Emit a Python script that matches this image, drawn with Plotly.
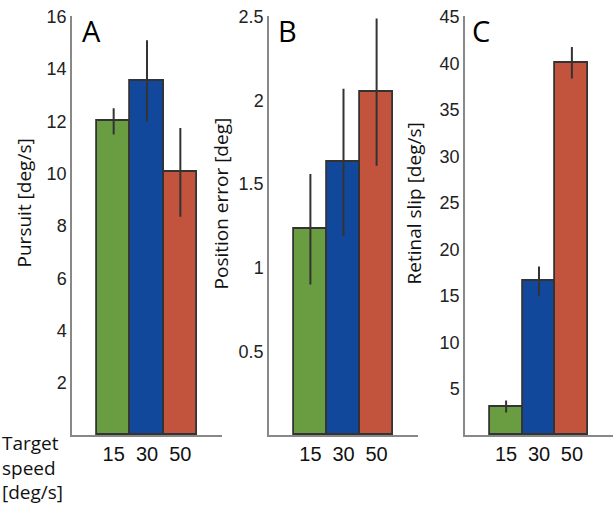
import plotly.graph_objects as go

speeds = ["15", "30", "50"]
colors = ["#6a9c42", "#12489c", "#c2533c"]

pursuit = [12.0, 13.55, 10.05]
pursuit_err = [0.5, 1.55, 1.7]

pos_error = [1.23, 1.63, 2.05]
pos_error_err = [0.33, 0.44, 0.44]

retinal_slip = [3.1, 16.55, 40.05]
retinal_slip_err = [0.65, 1.6, 1.7]

panels = [
    ("A", "Pursuit [deg/s]", pursuit, pursuit_err, [2, 4, 6, 8, 10, 12, 14, 16], 16),
    ("B", "Position error [deg]", pos_error, pos_error_err, [0.5, 1, 1.5, 2, 2.5], 2.5),
    ("C", "Retinal slip [deg/s]", retinal_slip, retinal_slip_err, [5, 10, 15, 20, 25, 30, 35, 40, 45], 45),
]

W, H = 615, 505
x_domains = [(72, 222), (269, 418), (465, 613)]
y_base, y_top = 434, 7
title_x = [24, 221, 414]
letter_x = [80, 276, 470]

fig = go.Figure()
xs = [0, 1, 2]
for i, (letter, ytitle, vals, errs, ticks, ymax) in enumerate(panels):
    n = "" if i == 0 else str(i + 1)
    fig.add_trace(go.Bar(
        x=xs, y=vals, width=1.0,
        marker=dict(color=colors, line=dict(color="#333333", width=1.8)),
        error_y=dict(type="data", array=errs, color="#333333", thickness=2, width=0),
        xaxis="x" + n, yaxis="y" + n, showlegend=False,
    ))
    x0, x1 = x_domains[i]
    fig.layout["xaxis" + n] = dict(
        domain=[x0 / W, x1 / W], range=[-1.25, 3.25], anchor="y" + n,
        tickvals=xs, ticktext=speeds, showline=True, linecolor="#888888", linewidth=1.5,
        showgrid=False, zeroline=False, ticks="", fixedrange=True,
        tickfont=dict(family="Liberation Sans, Arial", size=20, color="#111111"),
    )
    fig.layout["yaxis" + n] = dict(
        domain=[(H - y_base) / H, (H - y_top) / H], range=[0, ymax * 1.002], anchor="x" + n,
        tickvals=ticks, showline=True, linecolor="#888888", linewidth=1.5,
        showgrid=False, zeroline=False, ticks="", ticklabeloverflow="allow",
        tickfont=dict(family="Liberation Sans, Arial", size=18, color="#222222"),
    )
    fig.add_annotation(
        text=ytitle, textangle=-90, xref="paper", yref="paper",
        x=title_x[i] / W, y=(H - 198) / H, xanchor="center", yanchor="middle",
        showarrow=False, font=dict(family="Open Sans", size=19, color="#111111"),
    )
    fig.add_annotation(
        text=letter, xref="paper", yref="paper",
        x=letter_x[i] / W, y=1.0, xanchor="left", yanchor="top",
        showarrow=False, font=dict(family="Open Sans", size=29, color="#000000"),
    )

fig.add_annotation(
    text="Target<br>speed<br>[deg/s]", xref="paper", yref="paper",
    x=0, y=(H - 427) / H, xanchor="left", yanchor="top", align="left",
    showarrow=False, font=dict(family="Open Sans", size=19, color="#111111"),
)

fig.update_layout(
    width=W, height=H, margin=dict(l=0, r=0, t=0, b=0),
    plot_bgcolor="white", paper_bgcolor="white", bargap=0,
)

fig.write_html(
    "out.html",
    config={"displayModeBar": False},
    post_script="document.body.style.margin='0';document.body.style.overflow='hidden';",
)
